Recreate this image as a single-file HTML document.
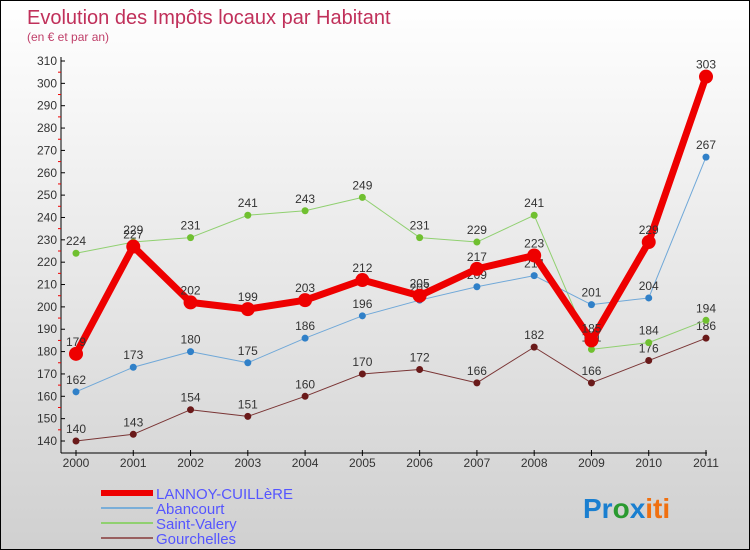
<!DOCTYPE html>
<html><head><meta charset="utf-8"><style>
body{margin:0}
#c{width:748px;height:548px;border:1px solid #000;background:linear-gradient(#fff,#d0d0d0);position:relative;font-family:"Liberation Sans",sans-serif;overflow:hidden}
</style></head><body>
<div id="c">
<svg id="s" width="748" height="548" xmlns="http://www.w3.org/2000/svg">
<text x="26" y="23" font-size="20" fill="#c0305a">Evolution des Impôts locaux par Habitant</text>
<text x="26" y="40" font-size="12" fill="#c0406a">(en € et par an)</text>
<g id="axes"></g><g id="series"></g>
<g>
<line x1="100" y1="492" x2="152" y2="492" stroke="#e00" stroke-width="6"/>
<text x="155" y="498" font-size="15" fill="#55f">LANNOY-CUILLèRE</text>
<line x1="100" y1="507" x2="152" y2="507" stroke="#7aaed8" stroke-width="2"/>
<text x="155" y="513" font-size="15" fill="#55f">Abancourt</text>
<line x1="100" y1="522" x2="152" y2="522" stroke="#90d070" stroke-width="2"/>
<text x="155" y="528" font-size="15" fill="#55f">Saint-Valery</text>
<line x1="100" y1="537" x2="152" y2="537" stroke="#996060" stroke-width="2"/>
<text x="155" y="543" font-size="15" fill="#55f">Gourchelles</text>
</g>
<text x="582" y="517" font-size="28" font-weight="bold"><tspan fill="#1a7fd0">Pr</tspan><tspan fill="#2a9a30">o</tspan><tspan fill="#1a7fd0">x</tspan><tspan fill="#f07010">iti</tspan></text>
</svg></div>
<script>
const years=[2000,2001,2002,2003,2004,2005,2006,2007,2008,2009,2010,2011];
const lannoy=[179,227,202,199,203,212,205,217,223,185,229,303];
const abancourt=[162,173,180,175,186,196,203,209,214,201,204,267];
const saintValery=[224,229,231,241,243,249,231,229,241,181,184,194];
const gourchelles=[140,143,154,151,160,170,172,166,182,166,176,186];
const yTicks=[140,150,160,170,180,190,200,210,220,230,240,250,260,270,280,290,300,310];
const NS="http://www.w3.org/2000/svg";
const X=i=>75+i*(705-75)/(years.length-1);
const Y=v=>440-(v-140)*(440-60)/170;
function mk(t,a,p){const e=document.createElementNS(NS,t);for(const k in a)e.setAttribute(k,a[k]);p.appendChild(e);return e;}
const ax=document.getElementById('axes');
const yl=mk('line',{x1:60,y1:56,x2:60,y2:452,stroke:'#000'},ax);


const xl=mk('line',{x1:60,y1:452,x2:706,y2:452,stroke:'#000'},ax);


yTicks.forEach(v=>{
  mk('line',{x1:60,y1:Y(v),x2:64,y2:Y(v),stroke:'#000'},ax);
  if(v<310)mk('line',{x1:57,y1:Y(v+5),x2:60,y2:Y(v+5),stroke:'#e00'},ax);
  const t=mk('text',{x:56,y:Y(v)+4,'font-size':12,fill:'#333','text-anchor':'end'},ax);
  t.textContent=v;
  
  
});
years.forEach((y,i)=>{
  mk('line',{x1:X(i),y1:449,x2:X(i),y2:455,stroke:'#000'},ax);
  const t=mk('text',{x:X(i),y:466,'font-size':12,fill:'#333','text-anchor':'middle'},ax);
  t.textContent=y;
  
  
});
const sg=document.getElementById('series');
function series(data,name,col,dot,w,r){
  const g=mk('g',{},sg);
  
  
  const p=mk('polyline',{points:data.map((v,i)=>X(i)+','+Y(v)).join(' '),fill:'none',stroke:col,'stroke-width':w,'stroke-linejoin':'round'},g);
  
  
  data.forEach((v,i)=>{
    const c=mk('circle',{cx:X(i),cy:Y(v),r:r,fill:dot},g);
    
    
    const t=mk('text',{x:X(i),y:Y(v)-8,'font-size':12,fill:'#333','text-anchor':'middle'},g);
    t.textContent=v;
    
    
  });
}
series(gourchelles,'gourchelles','#7a3535','#6a1a1a',1,3.5);
series(saintValery,'saint-valery','#90d070','#70c030',1,3.5);
series(abancourt,'abancourt','#70a8d8','#3080c8',1,3.5);
series(lannoy,'lannoy','#ee0000','#ee0000',7,7);
</script>
</body></html>
